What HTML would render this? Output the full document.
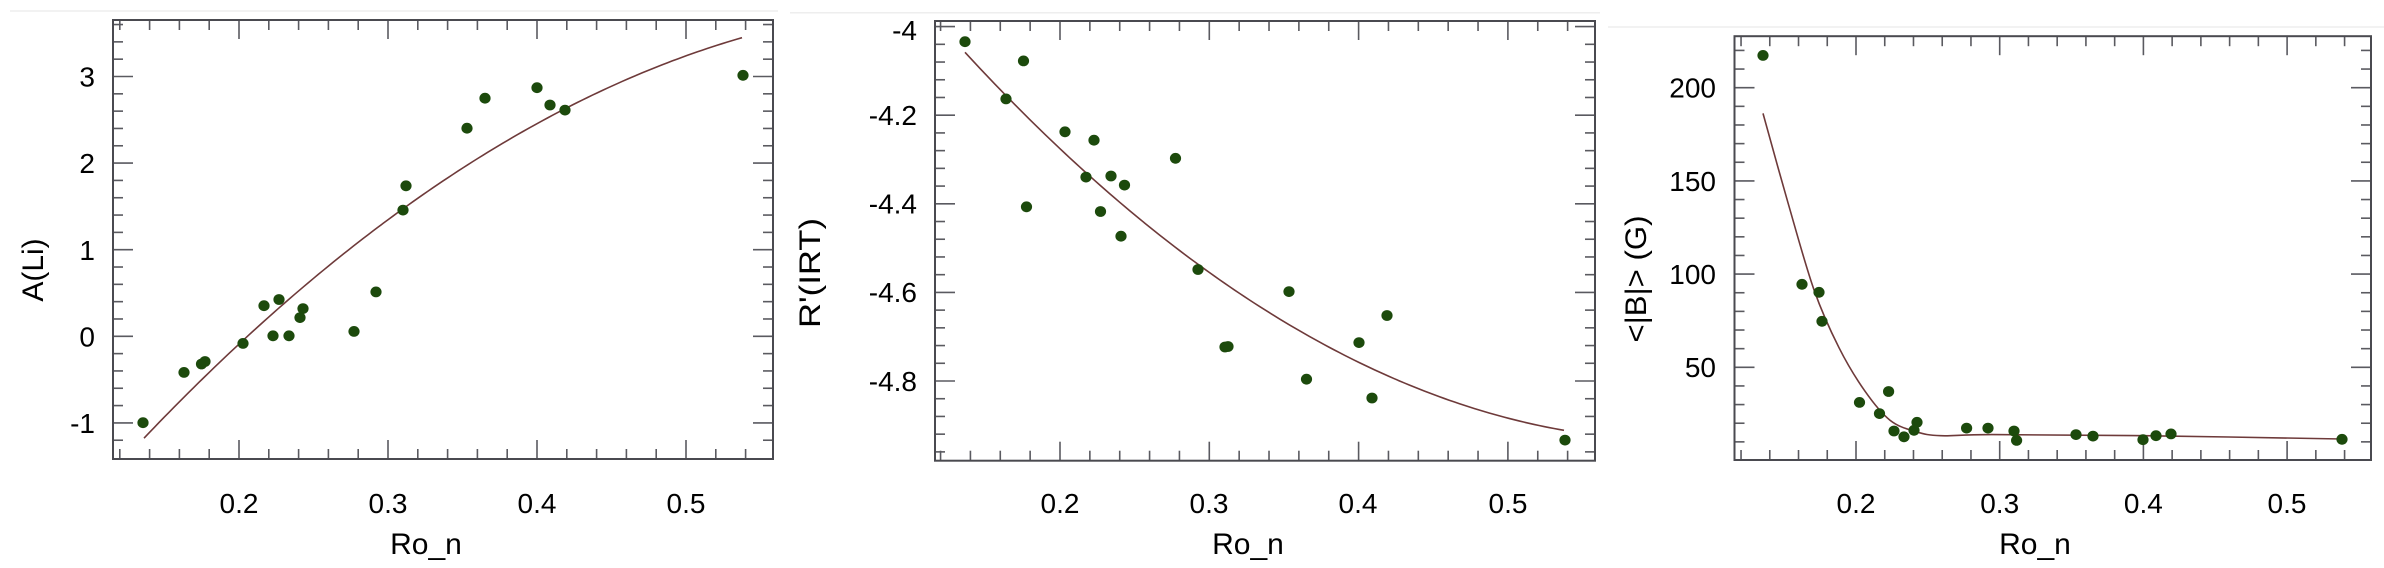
<!DOCTYPE html>
<html><head><meta charset="utf-8">
<style>
html,body{margin:0;padding:0;background:#fff;}
svg{display:block;}
text{font-family:"Liberation Sans",Arial,sans-serif;fill:#000;}
.tl{font-size:28px;}
.ax{font-size:30px;}
</style></head>
<body>
<svg id="s" width="2384" height="568" viewBox="0 0 2384 568" xmlns="http://www.w3.org/2000/svg">
<line x1="10" y1="11" x2="778" y2="11" stroke="#eeeeee" stroke-width="1.5"/>
<line x1="790" y1="12.7" x2="1600" y2="12.7" stroke="#eeeeee" stroke-width="1.5"/>
<line x1="1608" y1="27" x2="2384" y2="27" stroke="#eeeeee" stroke-width="1.5"/>
<g id="g"></g>
<g class="tl" text-anchor="middle">
<text x="239" y="513">0.2</text><text x="388" y="513">0.3</text><text x="537" y="513">0.4</text><text x="686" y="513">0.5</text>
</g>
<g class="tl" text-anchor="end">
<text x="95" y="86.5">3</text><text x="95" y="173">2</text><text x="95" y="260">1</text><text x="95" y="346.5">0</text><text x="95" y="433">-1</text>
</g>
<text class="ax" x="426" y="554" text-anchor="middle">Ro_n</text>
<text class="ax" transform="translate(43,270) rotate(-90)" text-anchor="middle">A(Li)</text>
<g class="tl" text-anchor="middle">
<text x="1060" y="513">0.2</text><text x="1209" y="513">0.3</text><text x="1358" y="513">0.4</text><text x="1508" y="513">0.5</text>
</g>
<g class="tl" text-anchor="end">
<text x="917" y="40">-4</text><text x="917" y="125">-4.2</text><text x="917" y="213.5">-4.4</text><text x="917" y="302">-4.6</text><text x="917" y="391">-4.8</text>
</g>
<text class="ax" x="1248" y="554" text-anchor="middle">Ro_n</text>
<text class="ax" transform="translate(820,273) rotate(-90)" text-anchor="middle" textLength="110" lengthAdjust="spacingAndGlyphs">R'(IRT)</text>
<g class="tl" text-anchor="middle">
<text x="1856" y="513">0.2</text><text x="1999.7" y="513">0.3</text><text x="2143.4" y="513">0.4</text><text x="2287" y="513">0.5</text>
</g>
<g class="tl" text-anchor="end">
<text x="1716" y="97.7">200</text><text x="1716" y="191">150</text><text x="1716" y="284">100</text><text x="1716" y="377">50</text>
</g>
<text class="ax" x="2035" y="554" text-anchor="middle">Ro_n</text>
<text class="ax" transform="translate(1646,279) rotate(-90)" text-anchor="middle" textLength="127" lengthAdjust="spacingAndGlyphs">&lt;|B|&gt; (G)</text>
</svg>
<script>
(function(){
var g=document.getElementById('g'),h='';
function ln(a,b,c,d,col,w){h+='<line x1="'+a+'" y1="'+b+'" x2="'+c+'" y2="'+d+'" stroke="'+col+'" stroke-width="'+w+'"/>';}
function polyfit(pts,deg){
  var n=deg+1,A=[],i,j,k;
  var x0=pts[0][0],sc=pts[pts.length-1][0]-x0;
  for(i=0;i<n;i++){A.push(new Array(n+1).fill(0));}
  pts.forEach(function(p){var t=(p[0]-x0)/sc;
    for(i=0;i<n;i++){for(j=0;j<n;j++)A[i][j]+=Math.pow(t,i+j);A[i][n]+=p[1]*Math.pow(t,i);}});
  for(i=0;i<n;i++){var m=i;for(k=i+1;k<n;k++)if(Math.abs(A[k][i])>Math.abs(A[m][i]))m=k;
    var tmp=A[i];A[i]=A[m];A[m]=tmp;
    for(k=0;k<n;k++){if(k===i)continue;var f=A[k][i]/A[i][i];for(j=i;j<=n;j++)A[k][j]-=f*A[i][j];}}
  var c=[];for(i=0;i<n;i++)c.push(A[i][n]/A[i][i]);
  return function(x){var t=(x-x0)/sc,s=0;for(var q=0;q<n;q++)s+=c[q]*Math.pow(t,q);return s;};
}
function panel(P){
  var L=P.L,R=P.R,T=P.T,B=P.B,tc="#5a5a60";
  for(var i=-20;i<=40;i++){
    var v=i*0.02, px=P.x0+(v-0.2)*P.xs;
    if(px<L+2||px>R-2)continue;
    var len=(i%5===0)?19:10;
    ln(px,B,px,B-len,tc,1.6); ln(px,T,px,T+len,tc,1.6);
  }
  for(var k=-200;k<=200;k++){
    var v=k*P.ym, py=P.y0-(v-P.yref)*P.ysc;
    if(py<T+2||py>B-2)continue;
    var len=(k%P.mj===0)?20:10;
    ln(L,py,L+len,py,tc,1.6); ln(R,py,R-len,py,tc,1.6);
  }
  h+='<rect x="'+L+'" y="'+T+'" width="'+(R-L)+'" height="'+(B-T)+'" fill="none" stroke="#4a4a50" stroke-width="2"/>';
  var c=P.c,d;
  if(P.fit){
    var f=polyfit(c,P.fit),xa=c[0][0],xb=c[c.length-1][0];
    d='M'+xa+','+f(xa).toFixed(2);
    for(var s=1;s<=120;s++){var x=xa+(xb-xa)*s/120;d+=' L'+x.toFixed(2)+','+f(x).toFixed(2);}
  } else {
    d='M'+c[0][0]+','+c[0][1];
    for(var j=0;j<c.length-1;j++){
      var p0=c[j-1]||c[j],p1=c[j],p2=c[j+1],p3=c[j+2]||p2;
      d+=' C'+(p1[0]+(p2[0]-p0[0])/6)+','+(p1[1]+(p2[1]-p0[1])/6)+' '+(p2[0]-(p3[0]-p1[0])/6)+','+(p2[1]-(p3[1]-p1[1])/6)+' '+p2[0]+','+p2[1];
    }
  }
  h+='<path d="'+d+'" fill="none" stroke="#6e3a3a" stroke-width="1.6"/>';
  P.p.forEach(function(q){h+='<ellipse cx="'+q[0]+'" cy="'+q[1]+'" rx="5.6" ry="5.4" fill="#1c4a0c"/>';});
}
panel({L:113,R:773,T:20,B:459,x0:239,xs:1490,y0:336.3,yref:0,ysc:86.6,ym:0.2,mj:5,fit:2,
 p:[[143,422.7],[184,372.4],[201.5,364],[205,361.5],[243,343.4],[264,305.7],[273,335.8],[279,299.5],[289,335.8],[300,317.6],[303,308.6],[354,331.4],[376,291.9],[403,210.1],[406,185.8],[467,128.2],[485,98.2],[537,87.7],[550,105],[565,110.1],[743,75.3]],
 c:[[144,438.3],[243,340.5],[357,241.6],[403,209.4],[510,141.3],[565,108.7],[663,61.6],[742,39.1]]});
panel({L:935,R:1595,T:21,B:460.7,x0:1060,xs:1493,y0:26.6,yref:-4,ysc:-443,ym:0.04,mj:5,fit:2,
 p:[[965,41.7],[1006,98.9],[1023.5,60.9],[1026.5,206.8],[1065,131.8],[1086,177.1],[1094,140.2],[1100.5,211.5],[1111,176],[1121,236.2],[1124.5,185.1],[1175.5,158.3],[1198,269.5],[1225,347],[1228,346.5],[1289,291.6],[1306.5,379.2],[1359,342.6],[1372,398],[1387,315.5],[1565,440.1]],
 c:[[965,50.7],[1065,155.7],[1198,266.2],[1310,333.2],[1361,362.2],[1463,407.5],[1564,429.9]]});
panel({L:1734.5,R:2371,T:36.2,B:460,x0:1856,xs:1437,y0:460.5,yref:0,ysc:1.864,ym:10,mj:5,
 p:[[1763,55.4],[1802,284.3],[1819,292.3],[1822,321.3],[1859.5,402.4],[1879.5,413.6],[1888.6,391.5],[1894,431],[1904,436.8],[1914,430.3],[1917,422.3],[1966.6,428.1],[1988,428.1],[2014,431],[2016.6,440.4],[2076,434.6],[2093,436.1],[2143,439.7],[2156,435.7],[2171,433.9],[2342,439.3]],
 c:[[1763,113.4],[1788,202.8],[1814,289.8],[1839,347.7],[1865,391.2],[1890,420.2],[1916,431.7],[1941,435.7],[1992,434.6],[2145,435.7],[2342,439]]});
g.innerHTML=h;
})();
</script>
</body></html>
